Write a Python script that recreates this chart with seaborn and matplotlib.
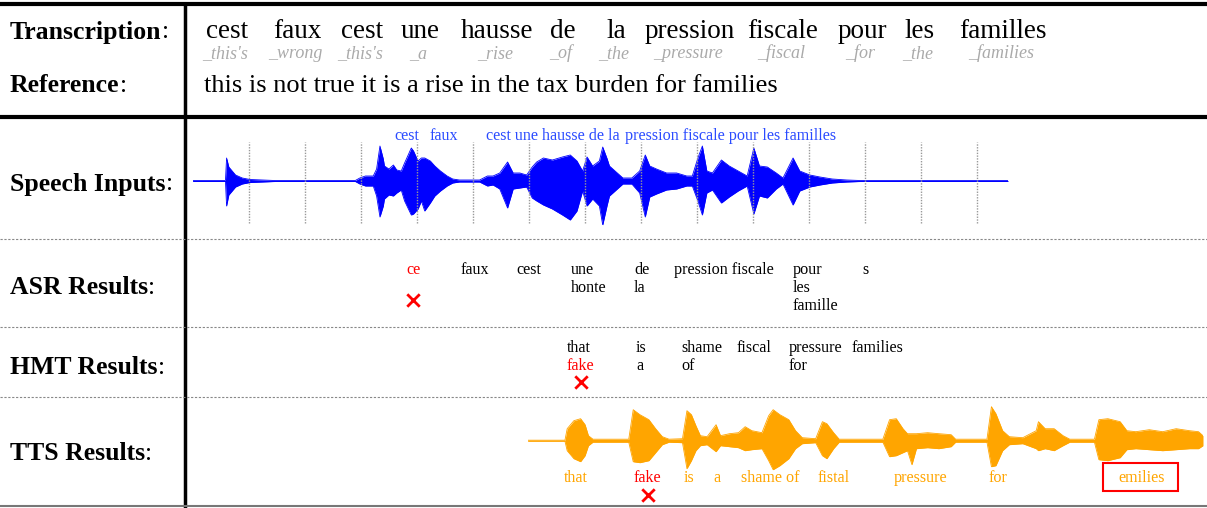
import numpy as np
import pandas as pd
import seaborn as sns
import matplotlib.pyplot as plt
from matplotlib.patches import Rectangle

# ---- data ----
src_words = ["cest", "faux", "cest", "une", "hausse", "de", "la",
             "pression", "fiscale", "pour", "les", "familles"]
gloss_words = ["_this's", "_wrong", "_this's", "_a", "_rise", "_of", "_the",
               "_pressure", "_fiscal", "_for", "_the", "_families"]
reference = "this is not true it is a rise in the tax burden for families"

# speech input envelope (seconds, upper / lower amplitude)
speech_t = [0.00, 0.29, 0.30, 0.32, 0.35, 0.38, 0.44, 0.51, 0.62, 0.73, 1.45, 1.49,
            1.54, 1.61, 1.64, 1.67, 1.70, 1.71, 1.75, 1.79, 1.82, 1.86, 1.89, 1.95,
            1.97, 2.01, 2.04, 2.07, 2.12, 2.16, 2.21, 2.27, 2.32, 2.38, 2.56, 2.63,
            2.68, 2.74, 2.81, 2.86, 2.92, 2.98, 3.03, 3.07, 3.13, 3.21, 3.30, 3.37,
            3.43, 3.48, 3.52, 3.57, 3.63, 3.66, 3.70, 3.72, 3.79, 3.84, 3.92, 3.99,
            4.04, 4.08, 4.14, 4.23, 4.32, 4.41, 4.46, 4.51, 4.55, 4.59, 4.64, 4.72,
            4.79, 4.87, 4.95, 5.01, 5.06, 5.13, 5.21, 5.27, 5.36, 5.42, 5.51, 5.60,
            5.71, 5.84, 5.96, 7.28]
speech_up = [0.5, 0.5, 23, 14, 10, 6, 3, 1.5, 1, 0.5, 0.5, 3,
             5, 5, 12, 35, 22, 15, 12, 16, 11, 10, 18, 33,
             30, 20, 23, 23, 20, 15, 10, 5, 2, 1, 1, 5,
             5, 8, 19, 8, 8, 6, 14, 19, 23, 21, 24, 26,
             20, 10, 24, 15, 20, 34, 22, 15, 8, 3, 3, 10,
             26, 15, 12, 8, 8, 5, 5, 23, 35, 10, 8, 21,
             15, 10, 5, 33, 15, 14, 8, 3, 23, 10, 6, 4,
             2, 1, 0.5, 0.5]
speech_lo = [0.5, 0.5, 25, 14, 10, 6, 3, 1.5, 1, 0.5, 0.5, 3,
             5, 5, 15, 36, 25, 18, 14, 15, 12, 9, 20, 34,
             33, 28, 20, 30, 22, 15, 10, 5, 2, 1, 1, 5,
             4, 8, 27, 8, 7, 6, 17, 20, 24, 28, 34, 39,
             30, 10, 25, 18, 25, 44, 24, 15, 8, 3, 3, 12,
             36, 16, 13, 9, 8, 5, 5, 20, 34, 12, 9, 22,
             16, 10, 5, 33, 15, 17, 8, 3, 24, 10, 6, 4,
             2, 1, 0.5, 0.5]
speech_grid = [0.5, 1.0, 1.5, 2.0, 2.5, 3.0, 3.5, 4.0, 4.5, 5.0, 5.5, 6.0, 6.5, 7.0]
speech_words = ["cest", "faux", "cest une hausse de la", "pression fiscale pour les familles"]
speech_word_t = [1.91, 2.24, 3.21, 4.80]

# ASR / HMT outputs (one list per token, lines stacked top to bottom)
asr_words = [["ce"], ["faux"], ["cest"], ["une", "honte"], ["de", "la"],
             ["pression fiscale"], ["pour", "les", "famille"], ["s"]]
asr_wrong = [True, False, False, False, False, False, False, False]
hmt_words = [["that", "fake"], ["is", "a"], ["shame", "of"], ["fiscal"],
             ["pressure", "for"], ["families"]]
hmt_wrong = ["fake"]

# TTS output envelope
tts_t = [0.00, 0.33, 0.35, 0.41, 0.47, 0.51, 0.54, 0.58, 0.90, 0.94, 1.00, 1.08,
         1.14, 1.20, 1.26, 1.38, 1.42, 1.46, 1.50, 1.54, 1.60, 1.68, 1.72, 1.80,
         1.88, 1.94, 2.00, 2.09, 2.15, 2.19, 2.25, 2.33, 2.39, 2.45, 2.57, 2.63,
         2.67, 2.73, 2.78, 3.17, 3.23, 3.29, 3.35, 3.39, 3.43, 3.47, 3.57, 3.67,
         3.78, 3.82, 4.10, 4.14, 4.18, 4.24, 4.30, 4.42, 4.54, 4.56, 4.62, 4.70,
         4.78, 4.84, 5.06, 5.10, 5.18, 5.29, 5.35, 5.43, 5.55, 5.67, 5.79, 5.91,
         5.99, 6.03]
tts_up = [0.5, 0.5, 12, 20, 22, 16, 5, 1.5, 1.5, 31, 26, 21,
          12, 4, 1.5, 2, 30, 26, 15, 5, 4, 16, 5, 7,
          8, 14, 10, 8, 25, 31, 26, 21, 10, 3, 2, 19,
          17, 8, 1.5, 1.5, 21, 22, 12, 7, 7, 7, 8, 7,
          6, 1.5, 1.5, 34, 27, 10, 4, 3, 10, 19, 12, 12,
          5, 1.5, 1.5, 21, 22, 19, 10, 9, 11, 9, 12, 10,
          9, 5]
tts_lo = [0.5, 0.5, 10, 18, 21, 15, 5, 1.5, 1.5, 21, 22, 20,
          12, 4, 1.5, 2, 28, 20, 10, 5, 4, 11, 5, 6,
          7, 10, 9, 8, 20, 29, 25, 18, 8, 3, 2, 15,
          18, 8, 1.5, 1.5, 16, 15, 12, 10, 24, 8, 7, 8,
          6, 1.5, 1.5, 26, 25, 10, 4, 3, 8, 10, 8, 10,
          5, 1.5, 1.5, 19, 20, 17, 9, 8, 9, 10, 9, 8,
          8, 5]
tts_words = ["that", "fake", "is", "a", "shame of", "fistal", "pressure", "for", "emilies"]
tts_word_t = [0.43, 1.07, 1.44, 1.69, 2.16, 2.73, 3.51, 4.20, 5.48]
tts_wrong = [False, True, False, False, False, False, False, False, False]

# ---- layout (pixels) ----
W, H = 1207, 508
SERIF = ["Liberation Serif", "DejaVu Serif"]
RED = "#ff0000"
ORANGE = "#ffa500"
BLUE = "#0000ff"
SMALL = 11.6

sns.set_theme(style="white")
plt.rcParams["font.family"] = SERIF
plt.rcParams["text.color"] = "black"

fig = plt.figure(figsize=(W / 100, H / 100), dpi=100)
ax = fig.add_axes([0, 0, 1, 1])
ax.set_xlim(0, W)
ax.set_ylim(H, 0)
ax.axis("off")


def sub_axes(x0, x1, yc, half):
    return fig.add_axes([x0 / W, 1 - (yc + half) / H, (x1 - x0) / W, 2 * half / H])


def draw_wave(axw, t, up, lo, color):
    df = pd.DataFrame({"t": t, "up": up, "lo": np.negative(lo)})
    axw.fill_between(df["t"], df["lo"], df["up"], color=color, lw=0)
    sns.lineplot(data=df, x="t", y="up", ax=axw, color=color, lw=0.6)
    sns.lineplot(data=df, x="t", y="lo", ax=axw, color=color, lw=0.6)
    axw.set_ylim(-44, 44)
    axw.axis("off")


# frame lines
ax.plot([0, W], [4, 4], color="black", lw=3)
ax.plot([0, W], [117, 117], color="black", lw=3)
ax.plot([185, 185], [4, H], color="black", lw=2.5)
for y in [239, 327, 397]:
    ax.plot([0, W], [y, y], color="#888888", lw=0.8, ls=(0, (2, 1.5)))
ax.plot([0, W], [506, 506], color="#777777", lw=1.5)

# row labels
row_labels = [("Transcription", 32), ("Reference", 85.5), ("Speech Inputs", 184),
              ("ASR Results", 288), ("HMT Results", 367), ("TTS Results", 454)]
for name, y in row_labels:
    t = ax.text(10, y, name, fontsize=18.5, fontweight="bold", va="center", ha="left")
    ax.annotate(":", xy=(1, 0), xycoords=t, va="bottom", ha="left", fontsize=18.5)

# transcription + gloss
src_x = [227, 297, 362, 420, 497, 563, 616, 690, 783, 862, 920, 1003]
for w, g, x in zip(src_words, gloss_words, src_x):
    ax.text(x, 32, w, fontsize=19.5, ha="center", va="center")
    ax.text(x - 2, 53.5, g, fontsize=13, ha="center", va="center",
            color="#aaaaaa", style="italic")
ax.text(204, 85.5, reference, fontsize=19, ha="left", va="center")

# speech input waveform
ax_sp = sub_axes(193, 1008, 181, 44)
ax_sp.set_xlim(0, 7.28)
draw_wave(ax_sp, speech_t, speech_up, speech_lo, BLUE)
ax_sp.vlines(speech_grid, -42, 39, colors="#999999", lw=1, ls=(0, (1, 1)))
for w, t in zip(speech_words, speech_word_t):
    ax_sp.text(t, 44.5, w, fontsize=SMALL, ha="center", va="center",
               color="#2a4bff", clip_on=False)

# ASR results
asr_x = [406, 461, 516, 571, 634, 674, 793, 862]
line_y = [269.5, 288, 306.5]
for lines, bad, x in zip(asr_words, asr_wrong, asr_x):
    for w, y in zip(lines, line_y):
        ax.text(x, y, w, fontsize=SMALL, ha="left", va="center",
                color=RED if bad else "black")
    if bad:
        ax.scatter([x + 7], [300], marker="x", s=80, color=RED, lw=2)

# HMT results
hmt_x = [567, 636, 681, 737, 789, 852]
for lines, x in zip(hmt_words, hmt_x):
    for w, y in zip(lines, [347.5, 366.5]):
        bad = w in hmt_wrong
        ax.text(x, y, w, fontsize=SMALL, ha="left", va="center",
                color=RED if bad else "black")
        if bad:
            ax.scatter([x + 14], [382], marker="x", s=80, color=RED, lw=2)

# TTS waveform
ax_tts = sub_axes(528, 1203, 440.7, 44)
ax_tts.set_xlim(0, 6.03)
draw_wave(ax_tts, tts_t, tts_up, tts_lo, ORANGE)
for w, t, bad in zip(tts_words, tts_word_t, tts_wrong):
    ax_tts.text(t, -37, w, fontsize=SMALL, ha="center", va="center",
                color=RED if bad else ORANGE, clip_on=False)
    if bad:
        ax_tts.scatter([t], [-54.5], marker="x", s=80, color=RED, lw=2, clip_on=False)
ax.add_patch(Rectangle((1103, 463), 75, 28, fill=False, edgecolor=RED, lw=1.5))

fig.savefig("out.png", dpi=100)
